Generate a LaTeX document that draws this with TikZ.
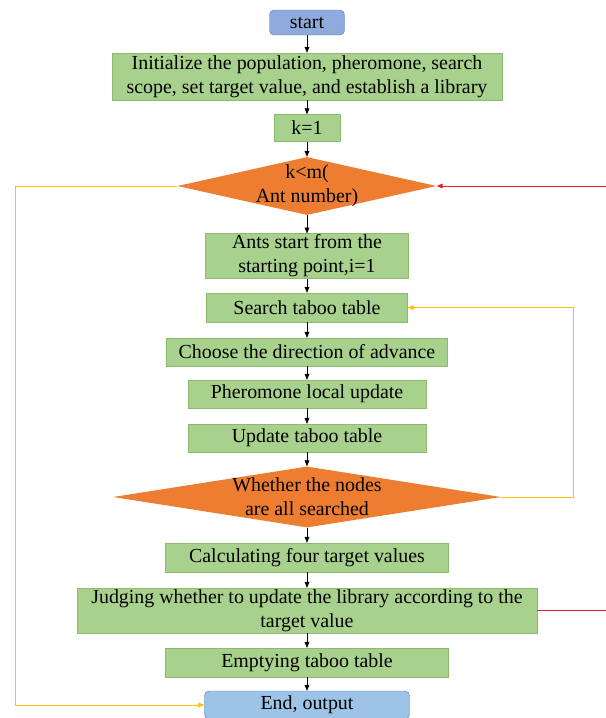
\documentclass[tikz,border=0pt]{standalone}
\usepackage{fontspec}
\setmainfont{Liberation Serif}
\usetikzlibrary{shapes.geometric,arrows.meta}
\definecolor{boxgreen}{HTML}{A9D18E}
\definecolor{boxedge}{HTML}{8CBB6E}
\definecolor{condorange}{HTML}{ED7D31}
\definecolor{termblue}{HTML}{8FAADC}
\definecolor{endblue}{HTML}{9DC3E6}
\definecolor{termedge}{HTML}{5B7FC0}
\definecolor{loopyellow}{HTML}{FFC000}
\definecolor{backred}{HTML}{E8202A}
\begin{document}
\begin{tikzpicture}[x=0.03cm, y=-0.03cm, font=\fontsize{17}{20.5}\selectfont,
  proc/.style={draw=boxedge, fill=boxgreen, align=center, inner sep=1pt},
  term/.style={draw=termedge, fill=termblue, rounded corners=4pt, align=center, inner sep=1pt},
  cond/.style={diamond, fill=condorange, inner sep=0pt, aspect=4},
  arr/.style={-{Triangle[length=5pt,width=4pt]}, black, thin},
  yline/.style={-{Triangle[length=5pt,width=4pt]}, loopyellow, thick},
  rline/.style={-{Triangle[length=5pt,width=4pt]}, backred, thick}]
  \useasboundingbox (0,0) rectangle (605,718);
  \node[term, minimum width=2.25cm, minimum height=0.75cm] (start) at (307,22.5) {start};
  \node[proc, minimum width=11.7cm, minimum height=1.41cm] (init) at (307,76.5) {Initialize the population, pheromone, search\\scope, set target value, and establish a library};
  \node[proc, minimum width=1.98cm, minimum height=0.81cm] (k1) at (307,128) {k=1};
  \node[cond, minimum width=7.77cm, minimum height=1.74cm,
    label={[align=center]center:k<m(\\Ant number)}] (antcond) at (307,186) {};
  \node[proc, minimum width=6.09cm, minimum height=1.32cm] (ants) at (307,256) {Ants start from the\\starting point,i=1};
  \node[proc, minimum width=6.03cm, minimum height=0.87cm] (search) at (307,307.5) {Search taboo table};
  \node[proc, minimum width=8.43cm, minimum height=0.84cm] (choose) at (307,352) {Choose the direction of advance};
  \node[proc, minimum width=7.14cm, minimum height=0.84cm] (local) at (307,394) {Pheromone local update};
  \node[proc, minimum width=7.14cm, minimum height=0.84cm] (update) at (307,438) {Update taboo table};
  \node[cond, minimum width=11.64cm, minimum height=1.83cm,
    label={[align=center]center:Whether the nodes\\are all searched}] (nodecond) at (307,497) {};
  \node[proc, minimum width=8.49cm, minimum height=0.87cm] (calc) at (307,557.5) {Calculating four target values};
  \node[proc, minimum width=13.8cm, minimum height=1.35cm] (judge) at (307,610.5) {Judging whether to update the library according to the\\target value};
  \node[proc, minimum width=8.49cm, minimum height=0.87cm] (empty) at (307,662.5) {Emptying taboo table};
  \node[term, fill=endblue, minimum width=6.15cm, minimum height=0.84cm] (out) at (307,705) {End, output};
  % main flow
  \draw[arr] (start) -- (init);
  \draw[arr] (init) -- (k1);
  \draw[arr] (k1) -- (antcond);
  \draw[arr] (antcond) -- (ants);
  \draw[arr] (ants) -- (search);
  \draw[arr] (search) -- (choose);
  \draw[arr] (choose) -- (local);
  \draw[arr] (local) -- (update);
  \draw[arr] (update) -- (nodecond);
  \draw[arr] (nodecond) -- (calc);
  \draw[arr] (calc) -- (judge);
  \draw[arr] (judge) -- (empty);
  \draw[arr] (empty) -- (out);
  % loops
  \coordinate (leftbend) at (15,186);
  \coordinate (rightbend) at (573,497);
  \coordinate (redbend) at (612,610.5);
  \draw[yline] (antcond.west) -- (leftbend) |- (out.west);
  \draw[yline] (nodecond.east) -- (rightbend) |- (search.east);
  \draw[rline] (judge.east) -- (redbend) |- (antcond.east);
\end{tikzpicture}
\end{document}
